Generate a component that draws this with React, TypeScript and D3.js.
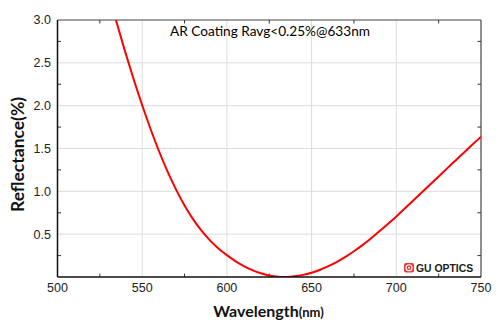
import React from "react";
import * as d3 from "d3";

const wavelengths = [534, 535, 540, 545, 550, 555, 560, 565, 570, 575, 580, 585, 590, 595, 600, 605, 610, 615, 620, 625, 630, 633, 635, 640, 645, 650, 655, 660, 665, 670, 675, 680, 685, 690, 695, 700, 705, 710, 715, 720, 725, 730, 735, 740, 745, 750];
const reflectance = [3.035, 2.965, 2.625, 2.305, 2.005, 1.725, 1.465, 1.23, 1.02, 0.835, 0.675, 0.54, 0.428, 0.334, 0.255, 0.186, 0.128, 0.081, 0.044, 0.017, 0.002, 0.0, 0.0007, 0.0085, 0.025, 0.05, 0.085, 0.127, 0.177, 0.235, 0.3, 0.372, 0.45, 0.533, 0.619, 0.707, 0.799, 0.892, 0.986, 1.08, 1.174, 1.268, 1.361, 1.454, 1.546, 1.638];
const xTicks = [500, 550, 600, 650, 700, 750];
const xMinor = [525, 575, 625, 675, 725];
const yTicks = [0.5, 1.0, 1.5, 2.0, 2.5, 3.0];
const yMinor = [0.25, 0.75, 1.25, 1.75, 2.25, 2.75];
const title = "AR Coating Ravg<0.25%@633nm";
const xTitle = "Wavelength";
const xUnit = "(nm)";
const yTitle = "Reflectance(%)";
const brand = "GU OPTICS";

export default function App() {
  const W = 500, H = 334;
  const L = 57.5, R = 481, T = 20, B = 277;
  const x = d3.scaleLinear().domain([500, 750]).range([L, R]);
  const y = d3.scaleLinear().domain([0, 3]).range([B, T]);
  const pts = wavelengths.map((w, i) => [w, reflectance[i]] as [number, number]);
  const line = d3.line<[number, number]>().x(d => x(d[0])).y(d => y(d[1])).curve(d3.curveMonotoneX);
  const tickFont = "'Liberation Sans', Arial, sans-serif";
  const calFont = "Lato, 'Open Sans', sans-serif";
  return (
    <svg width={W} height={H} style={{ position: "absolute", left: 0, top: 0, background: "#fff" }}>
      <defs>
        <clipPath id="plot"><rect x={L} y={T} width={R - L} height={B - T} /></clipPath>
      </defs>
      <rect x={0} y={0} width={W} height={H} fill="#fff" />
      {xTicks.slice(1, -1).map(t => (
        <line key={"gx" + t} x1={x(t)} x2={x(t)} y1={T} y2={B} stroke="#dcdcdc" strokeWidth={1} />
      ))}
      {yTicks.slice(0, -1).map(t => (
        <line key={"gy" + t} x1={L} x2={R} y1={y(t)} y2={y(t)} stroke="#dcdcdc" strokeWidth={1} />
      ))}
      {xMinor.map(t => (
        <g key={"mx" + t}>
          <line x1={x(t)} x2={x(t)} y1={B} y2={B - 3.5} stroke="#333" strokeWidth={1} />
          <line x1={x(t)} x2={x(t)} y1={T} y2={T + 3.5} stroke="#333" strokeWidth={1} />
        </g>
      ))}
      {yMinor.map(t => (
        <g key={"my" + t}>
          <line x1={L} x2={L + 3.5} y1={y(t)} y2={y(t)} stroke="#333" strokeWidth={1} />
          <line x1={R} x2={R - 3.5} y1={y(t)} y2={y(t)} stroke="#333" strokeWidth={1} />
        </g>
      ))}
      <line x1={L} x2={R} y1={T} y2={T} stroke="#444" strokeWidth={1.2} />
      <line x1={R} x2={R} y1={T} y2={B} stroke="#444" strokeWidth={1.2} />
      <path d={line(pts) || ""} fill="none" stroke="#ff0000" strokeWidth={2} clipPath="url(#plot)" />
      <line x1={L} x2={L} y1={T} y2={B} stroke="#111" strokeWidth={1.5} />
      <line x1={L} x2={R} y1={B} y2={B} stroke="#111" strokeWidth={1.5} />
      {xTicks.map(t => (
        <text key={"xl" + t} x={x(t)} y={291.5} textAnchor="middle" fontFamily={tickFont} fontSize={12.5} fill="#222">{t}</text>
      ))}
      {yTicks.map(t => (
        <text key={"yl" + t} x={51} y={y(t)} dy="0.35em" textAnchor="end" fontFamily={tickFont} fontSize={12.5} fill="#222">{t.toFixed(1)}</text>
      ))}
      <text x={270} y={35.7} textAnchor="middle" fontFamily={calFont} fontSize={14} fill="#000" textLength={200} lengthAdjust="spacingAndGlyphs">{title}</text>
      <text x={268.5} y={316.7} textAnchor="middle" fontFamily={calFont} fontWeight="bold" fontSize={16} fill="#111">
        {xTitle}<tspan fontSize={13}>{xUnit}</tspan>
      </text>
      <text transform="translate(24,154.5) rotate(-90)" textAnchor="middle" fontFamily={calFont} fontWeight="bold" fontSize={16.5} fill="#111" textLength={115} lengthAdjust="spacingAndGlyphs">{yTitle}</text>
      <g>
        <rect x={404} y={263} width={10} height={9.5} rx={2} fill="#e8383d" />
        <circle cx={409} cy={267.75} r={3} fill="none" stroke="#fff" strokeWidth={1.2} />
        <circle cx={409} cy={267.75} r={1} fill="#fff" />
        <text x={416} y={271.7} fontFamily={tickFont} fontWeight="bold" fontSize={10.4} fill="#222">{brand}</text>
      </g>
    </svg>
  );
}
